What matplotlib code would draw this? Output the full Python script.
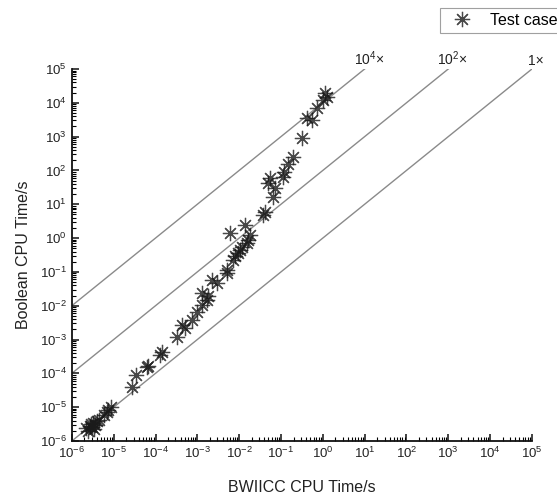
import numpy as np
import matplotlib.pyplot as plt

plt.rcParams['font.family'] = ['Liberation Sans', 'DejaVu Sans']
plt.rcParams['mathtext.fontset'] = 'custom'
plt.rcParams['mathtext.rm'] = 'Liberation Sans'
plt.rcParams['mathtext.it'] = 'Liberation Sans'

# test cases: BWIICC time vs Boolean time
bwiicc = [2.2e-6, 2.5e-6, 2.7e-6, 3.0e-6, 3.2e-6, 3.5e-6, 4.0e-6, 2.8e-6, 3.3e-6, 4.5e-6,
          6.0e-6, 6.9e-6, 7.5e-6, 8.5e-6,
          2.8e-5, 3.5e-5, 6.2e-5, 6.5e-5, 1.26e-4, 1.4e-4,
          3.2e-4, 4.3e-4, 5.0e-4, 7.4e-4, 9.7e-4, 1.3e-3, 1.7e-3, 1.8e-3, 1.3e-3,
          2.2e-3, 2.9e-3, 5.1e-3, 5.0e-3, 7.1e-3, 8.0e-3, 9.3e-3, 1.05e-2, 1.2e-2,
          1.5e-2, 1.6e-2, 1.8e-2, 6.0e-3, 1.4e-2,
          3.7e-2, 4.2e-2, 6.5e-2, 7.0e-2, 5.0e-2, 5.5e-2, 1.1e-1, 1.2e-1, 1.5e-1, 1.9e-1,
          3.2e-1, 4.2e-1, 5.5e-1, 7.2e-1, 1.0, 1.12, 1.25]
boolean = [2.4e-6, 2.0e-6, 2.8e-6, 2.6e-6, 3.5e-6, 3.0e-6, 4.0e-6, 3.2e-6, 2.2e-6, 4.2e-6,
           6.0e-6, 7.2e-6, 8.5e-6, 1.0e-5,
           4.0e-5, 9.0e-5, 1.55e-4, 1.6e-4, 3.5e-4, 4.2e-4,
           1.2e-3, 2.7e-3, 2.2e-3, 3.8e-3, 6.6e-3, 1.05e-2, 1.5e-2, 1.9e-2, 2.4e-2,
           5.8e-2, 4.6e-2, 9.3e-2, 1.1e-1, 2.3e-1, 2.9e-1, 3.7e-1, 4.5e-1, 5.5e-1,
           7.0e-1, 9.0e-1, 1.2, 1.4, 2.5,
           4.8, 6.0, 16.6, 30.0, 43.0, 60.0, 65.0, 90.0, 150.0, 250.0,
           900.0, 3600.0, 3200.0, 7000.0, 1.2e4, 2.0e4, 1.5e4]

# reference lines y = k * x
factors = [1e4, 1e2, 1.0]
factor_labels = ['$10^4$\u00d7', '$10^2$\u00d7', '1\u00d7']

fig = plt.figure(figsize=(5.57, 4.97), dpi=100)
ax = fig.add_axes([0.129, 0.1127, 0.826, 0.7485])

lo, hi = 1e-6, 1e5
for k, lab in zip(factors, factor_labels):
    xs = np.array([lo, hi / k])
    ax.plot(xs, xs * k, color='#8a8a8a', lw=1.0, zorder=1)
    ax.annotate(lab, (hi / k, hi), xytext=(3, 1), textcoords='offset points',
                ha='center', va='bottom', fontsize=10, color='#222222',
                annotation_clip=False)

ax.plot(bwiicc, boolean, linestyle='none', marker=(8, 2, 0), markersize=11,
        markeredgewidth=0.9, color='#1a1a1a', alpha=0.8, label='Test case', zorder=3)

ax.set_xscale('log')
ax.set_yscale('log')
ax.set_xlim(lo, hi)
ax.set_ylim(lo, hi)

decades = list(range(-6, 6))
ax.set_xticks([10.0 ** d for d in decades])
ax.set_yticks([10.0 ** d for d in decades])
ax.set_xticklabels(['$10^{%d}$' % d for d in decades])
ax.set_yticklabels(['$10^{%d}$' % d for d in decades])
ax.tick_params(which='major', direction='in', length=5, width=1.2, labelsize=9.5,
               colors='#222222')
ax.tick_params(which='minor', direction='in', length=3, width=0.8)
ax.xaxis.set_minor_locator(plt.matplotlib.ticker.LogLocator(base=10, subs=np.arange(2, 10), numticks=20))
ax.yaxis.set_minor_locator(plt.matplotlib.ticker.LogLocator(base=10, subs=np.arange(2, 10), numticks=20))
ax.xaxis.set_minor_formatter(plt.NullFormatter())
ax.yaxis.set_minor_formatter(plt.NullFormatter())

for side in ['top', 'right']:
    ax.spines[side].set_visible(False)
for side in ['left', 'bottom']:
    ax.spines[side].set_linewidth(1.3)
    ax.spines[side].set_color('#111111')

ax.set_xlabel('BWIICC CPU Time/s', fontsize=11.5, color='#222222', labelpad=14)
ax.set_ylabel('Boolean CPU Time/s', fontsize=11.5, color='#222222', labelpad=6)

leg = fig.legend(loc='upper left', bbox_to_anchor=(440 / 557, 1 - 8 / 497),
                 fontsize=11.5, frameon=True, fancybox=False, borderpad=0.3,
                 handlelength=2.2, handletextpad=0.6, borderaxespad=0)
leg.get_frame().set_edgecolor('#888888')
leg.get_frame().set_linewidth(0.8)

fig.savefig('out.png', dpi=100)
